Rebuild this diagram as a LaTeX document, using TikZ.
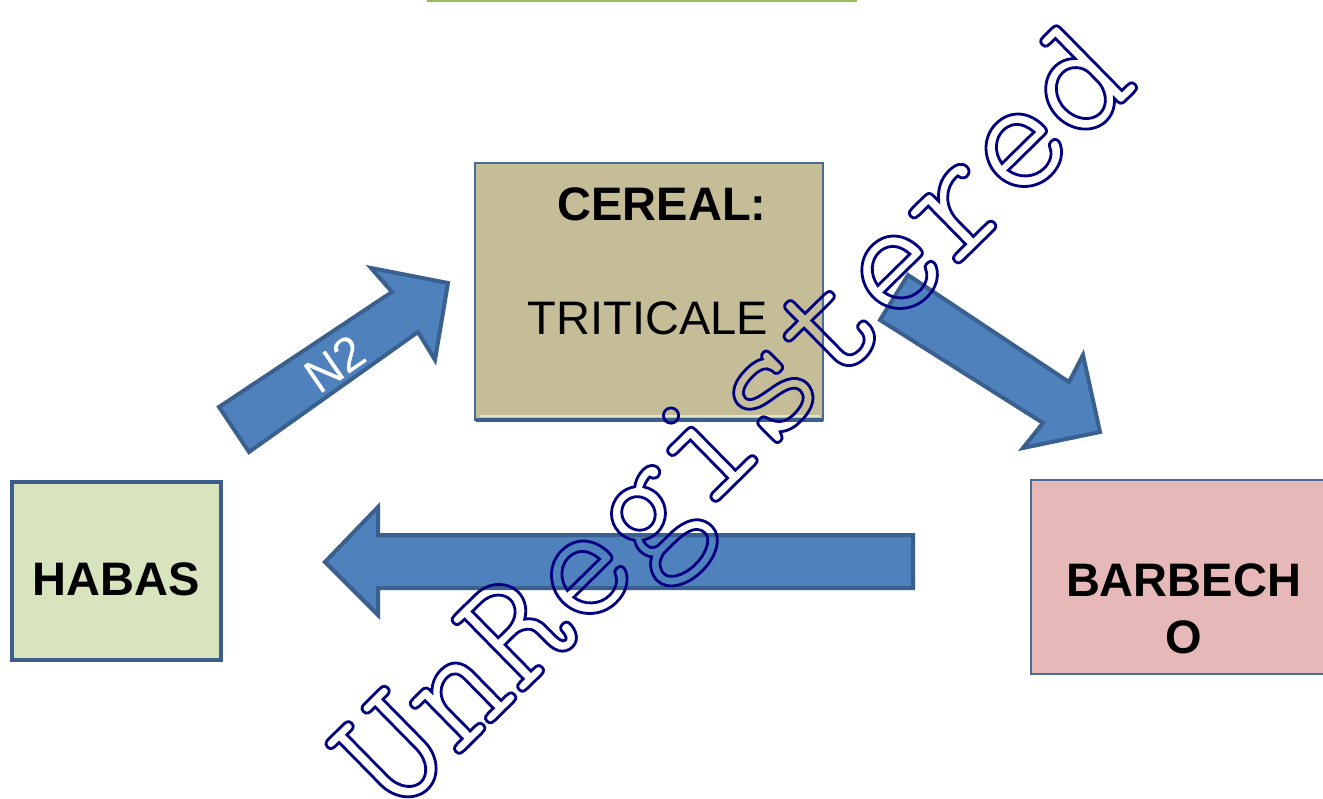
\documentclass[tikz,border=0pt]{standalone}
\usepackage{fontspec}
\setmainfont{Liberation Sans}
\definecolor{arrowfill}{HTML}{4F81BD}
\definecolor{arrowline}{HTML}{3A6090}
\definecolor{cerealfill}{HTML}{C4BD97}
\definecolor{habasfill}{HTML}{D7E4BD}
\definecolor{barbfill}{HTML}{E6B9B8}
\definecolor{boxline}{HTML}{4A6A9A}
\definecolor{boxdark}{HTML}{3B5E8C}
\definecolor{topgreen}{HTML}{9BBB59}
\definecolor{wmblue}{HTML}{000080}
\newcommand{\outlinetext}[1]{\special{pdf:literal direct 1 Tr 2.8 w}#1\special{pdf:literal direct 0 Tr}}
\begin{document}
\begin{tikzpicture}[x=1pt,y=-1pt,
  blockarrow/.style={fill=arrowfill,draw=arrowline,line width=4pt,line join=miter},
  boxtext/.style={anchor=base,inner sep=0pt,font=\bfseries\fontsize{47pt}{56pt}\selectfont},
  plaintext/.style={anchor=base,inner sep=0pt,font=\fontsize{47pt}{56pt}\selectfont}]
\useasboundingbox (0,0) rectangle (1323,799);
\fill[white] (0,0) rectangle (1323,799);
% top green line
\coordinate (gl) at (427,1);
\coordinate (gr) at (857,1);
\draw[topgreen,line width=3pt] (gl) -- (gr);

% CEREAL box
\path[fill=cerealfill,draw=boxline,line width=1.5pt] (475,163) rectangle (823,420);
\draw[habasfill!80!white,line width=1.5pt] (480,416) -- (820,416);
\draw[boxdark,line width=4.5pt] (476,420) -- (823,420);
\node[boxtext] (cereal) at (662,221) {CEREAL:};
\node[plaintext] (triticale) at (648,335) {TRITICALE};

% HABAS box
\path[fill=habasfill,draw=boxdark,line width=4pt] (12,482) rectangle (221,660);
\node[boxtext] (habas) at (116,595) {HABAS};

% BARBECHO box
\path[fill=barbfill,draw=boxline,line width=2pt] (1031,480) -- (1330,480) -- (1330,674) -- (1031,674) -- cycle;
\node[boxtext] (barb1) at (1183.5,596) {BARBECH};
\node[boxtext] (barb2) at (1183.5,653) {O};

% N2 arrow (habas -> cereal)
\draw[blockarrow] (219,407) -- (392,292) -- (371,268) -- (448,283) -- (435,360) -- (418,332) -- (249,452) -- cycle;
\node[text=white,rotate=34.5,inner sep=0pt,font=\fontsize{48pt}{56pt}\selectfont] (n2) at (335,364) {N2};

% cereal -> barbecho arrow
\draw[blockarrow] (908,275) -- (1069,382) -- (1083,355) -- (1100,432) -- (1023,448) -- (1043,423) -- (880,320) -- cycle;

% barbecho -> habas arrow
\draw[blockarrow] (913,535) -- (378,535) -- (378,507) -- (325,562) -- (378,615) -- (378,588) -- (913,588) -- cycle;

% watermark
\node[rotate=44.5,anchor=base,inner sep=0pt,text=wmblue] (wm) at (768,452)
  {\ttfamily\fontsize{169pt}{169pt}\selectfont\outlinetext{UnRegistered}};
\end{tikzpicture}
\end{document}
